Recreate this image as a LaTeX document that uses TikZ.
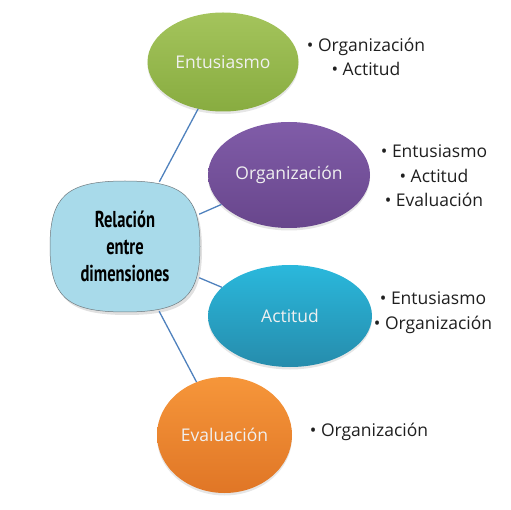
\documentclass[tikz,border=0pt]{standalone}
\usepackage{fontspec}
\setmainfont{Open Sans}
\newfontfamily\condfont[FakeStretch=0.72]{PT Sans}
\usetikzlibrary{shapes.geometric,shadows}
\definecolor{linkblue}{RGB}{79,129,189}
\definecolor{gtop}{RGB}{164,196,92}
\definecolor{gbot}{RGB}{136,172,64}
\definecolor{ptop}{RGB}{128,92,168}
\definecolor{pbot}{RGB}{104,70,140}
\definecolor{ctop}{RGB}{42,184,220}
\definecolor{cbot}{RGB}{38,140,172}
\definecolor{otop}{RGB}{246,150,58}
\definecolor{obot}{RGB}{224,118,38}
\definecolor{blobfill}{RGB}{168,218,234}
\definecolor{blobline}{RGB}{110,120,125}
\begin{document}
\begin{tikzpicture}[x=1pt,y=-1pt,
  bub/.style={ellipse,inner sep=0pt,text=white!94!black,
    font=\fontsize{17.5}{20}\selectfont,
    drop shadow={opacity=0.2,shadow xshift=0pt,shadow yshift=-2.5pt}},
  lst/.style={align=center,inner sep=0pt,font=\fontsize{17.5}{24.5}\selectfont,text=black!88},
  link/.style={draw=linkblue,line width=1.3pt}]
\useasboundingbox (0,0) rectangle (511,510);
% central blob
\def\blob#1#2{%
  (125+#1,181+#2) .. controls (183+#1,181+#2) and (200+#1,196+#2) .. (200+#1,246.5+#2)
  .. controls (200+#1,297+#2) and (183+#1,312+#2) .. (125+#1,312+#2)
  .. controls (67+#1,312+#2) and (50+#1,297+#2) .. (50+#1,246.5+#2)
  .. controls (50+#1,196+#2) and (67+#1,181+#2) .. (125+#1,181+#2) -- cycle}
\fill[black,opacity=0.12] \blob{2}{3};
\filldraw[fill=blobfill,draw=blobline,line width=0.5pt] \blob{0}{0};
\node[rectangle,inner sep=0pt,minimum width=148pt,minimum height=129pt,
      align=center,font=\condfont\bfseries\fontsize{23}{27}\selectfont]
  (rel) at (125,246.5) {Relación\\entre\\dimensiones};
% bubbles
\node[bub,top color=gtop,bottom color=gbot,minimum width=151pt,minimum height=99pt]
  (ent) at (223,62) {Entusiasmo};
\node[bub,top color=ptop,bottom color=pbot,minimum width=162pt,minimum height=106pt]
  (org) at (289,175) {Organización};
\node[bub,top color=ctop,bottom color=cbot,minimum width=164pt,minimum height=102pt]
  (act) at (290,316) {Actitud};
\node[bub,top color=otop,bottom color=obot,minimum width=135pt,minimum height=116pt]
  (eva) at (224.5,435) {Evaluación};
% connectors
\draw[link] (rel) -- (ent);
\draw[link] (rel) -- (org);
\draw[link] (rel) -- (act);
\draw[link] (rel) -- (eva);
% lists
\node[lst] (lent) at (366,57) {• Organización\\• Actitud};
\node[lst] (lorg) at (434,176) {• Entusiasmo\\• Actitud\\• Evaluación};
\node[lst] (lact) at (433,312.5) {• Entusiasmo\\• Organización};
\node[lst] (leva) at (369,432) {• Organización};
\end{tikzpicture}
\end{document}
